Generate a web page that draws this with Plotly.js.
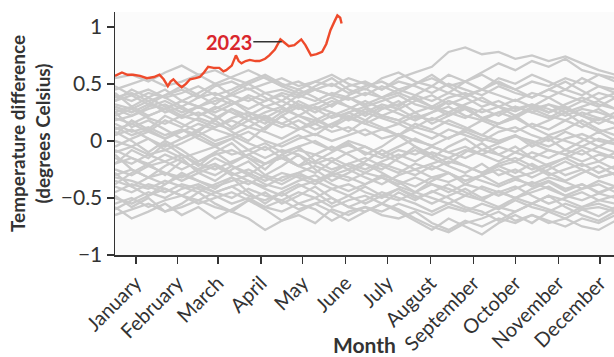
<!DOCTYPE html>
<html>
<head>
<meta charset="utf-8">
<script src="https://cdn.plot.ly/plotly-3.0.1.min.js"></script>
<style>html,body{margin:0;padding:0;background:#fff;}#chart{width:614px;height:357px;}</style>
</head>
<body>
<div id="chart"></div>
<script>
// Day-of-year sample positions for the past-year (gray) series
const days = [0,12,24,36,48,60,72,84,96,108,120,132,144,156,168,180,192,204,216,228,240,252,264,276,288,300,312,324,336,348,360];

// Past years: daily global temperature difference (°C), sampled
const pastYears = [
  [0.55,0.58,0.52,0.60,0.66,0.58,0.62,0.55,0.50,0.56,0.48,0.42,0.45,0.40,0.36,0.42,0.38,0.45,0.40,0.35,0.42,0.38,0.30,0.35,0.28,0.32,0.25,0.30,0.22,0.28,0.20],
  [0.45,0.50,0.55,0.48,0.52,0.58,0.50,0.56,0.62,0.55,0.48,0.52,0.45,0.50,0.42,0.48,0.52,0.45,0.50,0.55,0.48,0.52,0.58,0.50,0.45,0.52,0.48,0.55,0.50,0.58,0.52],
  [0.30,0.25,0.32,0.28,0.35,0.30,0.38,0.32,0.40,0.35,0.42,0.38,0.45,0.40,0.48,0.52,0.45,0.55,0.60,0.65,0.78,0.82,0.76,0.78,0.72,0.75,0.70,0.74,0.68,0.62,0.58],
  [0.38,0.42,0.35,0.40,0.45,0.38,0.48,0.52,0.45,0.50,0.55,0.48,0.52,0.58,0.50,0.45,0.55,0.60,0.52,0.48,0.58,0.52,0.60,0.68,0.62,0.70,0.65,0.72,0.62,0.58,0.55],
  [0.25,0.30,0.22,0.28,0.35,0.30,0.25,0.32,0.38,0.30,0.35,0.28,0.32,0.38,0.30,0.25,0.32,0.28,0.35,0.40,0.32,0.38,0.45,0.40,0.35,0.42,0.38,0.45,0.40,0.48,0.42],
  [0.20,0.15,0.22,0.28,0.20,0.25,0.18,0.28,0.22,0.30,0.25,0.32,0.28,0.20,0.25,0.30,0.22,0.28,0.20,0.25,0.30,0.22,0.18,0.25,0.20,0.28,0.22,0.18,0.25,0.20,0.15],
  [0.32,0.28,0.35,0.25,0.30,0.22,0.28,0.35,0.25,0.20,0.28,0.22,0.30,0.25,0.18,0.25,0.20,0.15,0.22,0.18,0.25,0.20,0.28,0.22,0.30,0.25,0.32,0.28,0.35,0.30,0.38],
  [0.10,0.15,0.08,0.18,0.12,0.20,0.15,0.10,0.18,0.22,0.15,0.10,0.18,0.12,0.20,0.15,0.22,0.18,0.12,0.20,0.15,0.10,0.18,0.12,0.08,0.15,0.10,0.18,0.12,0.20,0.15],
  [0.12,0.05,0.10,0.02,0.08,0.15,0.10,0.05,0.12,0.08,0.02,0.10,0.15,0.08,0.12,0.05,0.10,0.15,0.08,0.02,0.10,0.05,0.00,0.08,0.12,0.05,0.00,0.08,0.02,-0.05,0.02],
  [0.40,0.35,0.42,0.38,0.30,0.38,0.42,0.35,0.28,0.35,0.40,0.32,0.25,0.32,0.38,0.30,0.35,0.40,0.32,0.28,0.35,0.30,0.25,0.30,0.22,0.28,0.32,0.25,0.30,0.35,0.28],
  [0.00,-0.05,0.02,-0.08,-0.02,0.05,-0.03,0.02,0.08,0.00,-0.05,0.02,0.06,0.00,0.05,0.10,0.02,0.06,0.00,-0.04,0.03,0.08,0.02,-0.02,0.04,0.00,-0.05,0.02,0.06,0.00,-0.03],
  [-0.10,-0.05,-0.12,-0.08,-0.15,-0.10,-0.05,-0.12,-0.08,-0.02,-0.10,-0.05,0.00,-0.08,-0.04,-0.10,-0.15,-0.08,-0.12,-0.05,-0.10,-0.15,-0.08,-0.12,-0.18,-0.10,-0.15,-0.08,-0.12,-0.05,-0.10],
  [-0.20,-0.15,-0.22,-0.18,-0.12,-0.20,-0.25,-0.18,-0.12,-0.20,-0.15,-0.22,-0.18,-0.25,-0.20,-0.15,-0.22,-0.28,-0.20,-0.25,-0.18,-0.22,-0.28,-0.22,-0.18,-0.25,-0.20,-0.15,-0.22,-0.18,-0.25],
  [-0.30,-0.25,-0.32,-0.28,-0.35,-0.28,-0.22,-0.30,-0.25,-0.32,-0.38,-0.30,-0.35,-0.28,-0.32,-0.38,-0.30,-0.35,-0.40,-0.32,-0.36,-0.30,-0.35,-0.40,-0.34,-0.38,-0.32,-0.36,-0.42,-0.35,-0.40],
  [-0.40,-0.45,-0.38,-0.42,-0.48,-0.40,-0.45,-0.50,-0.42,-0.48,-0.52,-0.45,-0.50,-0.42,-0.48,-0.55,-0.48,-0.52,-0.45,-0.50,-0.55,-0.48,-0.52,-0.58,-0.50,-0.55,-0.48,-0.52,-0.58,-0.52,-0.55],
  [-0.65,-0.60,-0.55,-0.62,-0.58,-0.52,-0.58,-0.62,-0.68,-0.78,-0.70,-0.65,-0.72,-0.60,-0.65,-0.58,-0.62,-0.55,-0.60,-0.65,-0.58,-0.62,-0.55,-0.60,-0.52,-0.58,-0.62,-0.55,-0.60,-0.58,-0.62],
  [-0.55,-0.50,-0.58,-0.52,-0.48,-0.55,-0.50,-0.45,-0.52,-0.58,-0.62,-0.55,-0.60,-0.70,-0.62,-0.58,-0.65,-0.68,-0.62,-0.72,-0.78,-0.70,-0.75,-0.68,-0.72,-0.65,-0.70,-0.75,-0.68,-0.72,-0.65],
  [-0.50,-0.55,-0.48,-0.42,-0.48,-0.52,-0.45,-0.40,-0.48,-0.52,-0.45,-0.55,-0.50,-0.58,-0.52,-0.48,-0.55,-0.60,-0.68,-0.75,-0.80,-0.72,-0.68,-0.62,-0.70,-0.65,-0.72,-0.68,-0.75,-0.78,-0.70],
  [-0.35,-0.40,-0.32,-0.38,-0.30,-0.35,-0.40,-0.35,-0.30,-0.38,-0.42,-0.35,-0.30,-0.38,-0.44,-0.38,-0.32,-0.40,-0.45,-0.38,-0.42,-0.48,-0.40,-0.45,-0.50,-0.45,-0.40,-0.48,-0.52,-0.46,-0.50],
  [-0.25,-0.30,-0.22,-0.28,-0.32,-0.25,-0.20,-0.28,-0.35,-0.40,-0.32,-0.28,-0.35,-0.30,-0.25,-0.32,-0.38,-0.30,-0.25,-0.32,-0.28,-0.35,-0.30,-0.25,-0.32,-0.28,-0.22,-0.30,-0.25,-0.32,-0.28],
  [-0.15,-0.20,-0.12,-0.18,-0.25,-0.18,-0.12,-0.08,-0.15,-0.20,-0.15,-0.08,-0.12,-0.18,-0.10,-0.05,-0.12,-0.18,-0.25,-0.20,-0.15,-0.22,-0.28,-0.20,-0.15,-0.22,-0.30,-0.25,-0.20,-0.28,-0.22],
  [0.05,0.10,0.02,-0.05,0.02,0.08,0.00,0.05,-0.02,-0.08,-0.02,0.05,-0.02,-0.08,0.00,-0.05,-0.12,-0.05,0.02,-0.05,-0.10,-0.05,-0.12,-0.18,-0.10,-0.15,-0.08,-0.12,-0.18,-0.12,-0.15],
  [0.22,0.28,0.20,0.15,0.22,0.18,0.12,0.20,0.25,0.18,0.12,0.18,0.10,0.15,0.22,0.15,0.10,0.05,0.12,0.08,0.02,0.10,0.05,0.00,0.05,-0.02,0.04,0.00,-0.05,0.02,-0.02],
  [-0.45,-0.38,-0.42,-0.35,-0.40,-0.45,-0.38,-0.32,-0.38,-0.30,-0.35,-0.28,-0.22,-0.28,-0.20,-0.25,-0.18,-0.12,-0.18,-0.10,-0.15,-0.08,-0.12,-0.05,-0.10,-0.02,-0.08,-0.12,-0.05,-0.10,-0.15],
  [0.15,0.08,0.12,0.05,0.10,0.02,-0.05,0.02,-0.08,-0.15,-0.08,-0.12,-0.20,-0.15,-0.22,-0.28,-0.20,-0.25,-0.30,-0.22,-0.28,-0.35,-0.30,-0.38,-0.32,-0.40,-0.35,-0.42,-0.38,-0.45,-0.40],
  [0.35,0.40,0.45,0.38,0.42,0.48,0.40,0.45,0.52,0.58,0.50,0.45,0.52,0.48,0.55,0.50,0.45,0.52,0.48,0.42,0.50,0.45,0.40,0.48,0.42,0.38,0.45,0.40,0.35,0.42,0.38],
  [-0.05,0.02,0.08,0.02,0.10,0.05,0.12,0.18,0.12,0.20,0.15,0.22,0.18,0.25,0.20,0.28,0.22,0.18,0.25,0.30,0.22,0.28,0.20,0.25,0.30,0.25,0.20,0.28,0.22,0.18,0.25],
  [-0.60,-0.52,-0.45,-0.50,-0.42,-0.38,-0.45,-0.40,-0.35,-0.42,-0.48,-0.40,-0.35,-0.42,-0.38,-0.45,-0.50,-0.42,-0.48,-0.55,-0.48,-0.42,-0.50,-0.45,-0.40,-0.48,-0.55,-0.50,-0.45,-0.52,-0.48],
  [0.28,0.22,0.30,0.35,0.28,0.22,0.30,0.25,0.18,0.25,0.30,0.22,0.15,0.22,0.28,0.35,0.28,0.32,0.38,0.30,0.25,0.32,0.38,0.30,0.36,0.30,0.25,0.32,0.38,0.32,0.28],
  [-0.08,-0.15,-0.20,-0.12,-0.18,-0.25,-0.30,-0.22,-0.28,-0.35,-0.28,-0.32,-0.38,-0.30,-0.35,-0.28,-0.32,-0.38,-0.32,-0.38,-0.45,-0.38,-0.42,-0.48,-0.42,-0.36,-0.42,-0.48,-0.42,-0.38,-0.45],
  [-0.32,-0.35,-0.40,-0.45,-0.38,-0.42,-0.48,-0.55,-0.50,-0.58,-0.52,-0.60,-0.55,-0.50,-0.58,-0.52,-0.45,-0.50,-0.55,-0.62,-0.55,-0.60,-0.65,-0.58,-0.62,-0.55,-0.60,-0.65,-0.58,-0.55,-0.60],
  [0.18,0.22,0.28,0.32,0.25,0.30,0.35,0.40,0.35,0.42,0.45,0.40,0.35,0.42,0.38,0.32,0.38,0.42,0.36,0.30,0.38,0.42,0.35,0.30,0.26,0.32,0.28,0.22,0.28,0.25,0.20],
  [0.42,0.30,0.38,0.45,0.35,0.42,0.50,0.40,0.46,0.38,0.30,0.40,0.48,0.55,0.45,0.40,0.48,0.42,0.50,0.58,0.48,0.40,0.45,0.52,0.45,0.38,0.45,0.52,0.44,0.36,0.42],
  [0.05,0.18,0.10,0.22,0.15,0.08,0.20,0.28,0.18,0.10,0.22,0.30,0.20,0.12,0.25,0.18,0.28,0.35,0.25,0.15,0.22,0.30,0.20,0.15,0.22,0.12,0.18,0.25,0.15,0.08,0.12],
  [-0.20,-0.08,-0.15,-0.02,-0.12,-0.22,-0.10,-0.02,-0.15,-0.25,-0.12,-0.05,-0.18,-0.10,-0.02,-0.12,-0.05,0.05,-0.05,-0.15,-0.05,0.02,-0.08,-0.02,0.05,-0.05,0.02,-0.08,0.00,0.08,0.00],
  [-0.38,-0.28,-0.20,-0.30,-0.18,-0.25,-0.15,-0.22,-0.30,-0.20,-0.12,-0.22,-0.28,-0.18,-0.25,-0.18,-0.08,-0.15,-0.05,-0.12,-0.20,-0.10,-0.02,-0.12,-0.05,-0.15,-0.22,-0.15,-0.08,-0.18,-0.10],
  [-0.48,-0.58,-0.50,-0.62,-0.55,-0.45,-0.55,-0.62,-0.52,-0.45,-0.55,-0.48,-0.40,-0.50,-0.58,-0.62,-0.55,-0.45,-0.52,-0.44,-0.50,-0.58,-0.62,-0.70,-0.62,-0.55,-0.48,-0.58,-0.65,-0.70,-0.62],
  [0.48,0.40,0.32,0.40,0.48,0.40,0.32,0.42,0.50,0.42,0.35,0.45,0.38,0.30,0.40,0.46,0.38,0.30,0.40,0.48,0.42,0.52,0.45,0.55,0.50,0.58,0.52,0.45,0.55,0.48,0.45],
  [-0.12,-0.25,-0.32,-0.22,-0.15,-0.28,-0.35,-0.25,-0.18,-0.30,-0.22,-0.12,-0.25,-0.35,-0.28,-0.20,-0.28,-0.36,-0.45,-0.35,-0.28,-0.38,-0.30,-0.22,-0.28,-0.20,-0.28,-0.35,-0.28,-0.22,-0.30],
  [0.25,0.12,0.18,0.10,0.02,0.10,0.18,0.08,0.00,0.12,0.22,0.12,0.05,0.15,0.08,0.18,0.12,0.05,0.15,0.10,0.18,0.12,0.05,0.15,0.20,0.12,0.05,0.10,0.18,0.10,0.05],
  [-0.28,-0.40,-0.48,-0.38,-0.28,-0.35,-0.42,-0.32,-0.45,-0.55,-0.45,-0.38,-0.45,-0.55,-0.48,-0.40,-0.48,-0.42,-0.50,-0.45,-0.38,-0.45,-0.52,-0.44,-0.50,-0.42,-0.36,-0.44,-0.38,-0.46,-0.40],
  [0.08,0.00,-0.10,0.00,-0.08,-0.18,-0.10,-0.20,-0.12,-0.05,-0.15,-0.22,-0.12,-0.05,-0.12,-0.20,-0.25,-0.15,-0.08,-0.15,-0.22,-0.28,-0.20,-0.30,-0.25,-0.32,-0.25,-0.18,-0.25,-0.32,-0.28],
  [0.35,0.45,0.38,0.30,0.22,0.30,0.22,0.12,0.22,0.15,0.25,0.35,0.28,0.35,0.30,0.22,0.30,0.24,0.18,0.25,0.35,0.28,0.20,0.15,0.22,0.30,0.38,0.30,0.22,0.15,0.22],
  [-0.58,-0.68,-0.62,-0.55,-0.65,-0.58,-0.68,-0.60,-0.52,-0.60,-0.70,-0.62,-0.55,-0.62,-0.70,-0.62,-0.55,-0.62,-0.70,-0.78,-0.68,-0.75,-0.82,-0.72,-0.65,-0.72,-0.62,-0.68,-0.60,-0.66,-0.58]
];

// 2023 series (day of year, temperature difference)
const days2023 = [0,3,5,9,13,18,23,28,32,35,38,40,42,45,48,51,54,58,61,64,67,71,75,78,80,84,87,89,91,94,97,101,104,108,111,115,119,122,125,129,134,137,141,145,149,152,155,158,160,162,163];
const temp2023 = [0.57,0.59,0.60,0.58,0.58,0.57,0.55,0.56,0.58,0.54,0.48,0.52,0.54,0.50,0.47,0.50,0.54,0.55,0.56,0.60,0.65,0.64,0.64,0.61,0.62,0.66,0.75,0.70,0.68,0.70,0.71,0.70,0.70,0.72,0.75,0.80,0.89,0.86,0.83,0.84,0.89,0.84,0.75,0.76,0.78,0.85,0.97,1.05,1.10,1.08,1.03];

// Axis ticks
const monthTickDays = [15,45,74,105,135,166,196,227,258,288,319,349];
const monthNames = ["January","February","March","April","May","June","July","August","September","October","November","December"];
const yTickVals = [-1,-0.5,0,0.5,1];
const yTickText = ["−1","−0.5","0","0.5","1"];

const traces = pastYears.map(v => ({
  x: days, y: v, type: 'scatter', mode: 'lines',
  line: {color: 'rgb(202,202,202)', width: 2.3},
  hoverinfo: 'skip', showlegend: false
}));
traces.push({
  x: days2023, y: temp2023, type: 'scatter', mode: 'lines',
  line: {color: '#ee4a2b', width: 2.4},
  showlegend: false, name: '2023'
});

const font = "Lato, 'Open Sans', sans-serif";
const layout = {
  width: 614, height: 357,
  margin: {l: 115, r: 0, t: 12, b: 102},
  paper_bgcolor: '#ffffff', plot_bgcolor: '#fbfbfb',
  font: {family: font, color: '#333', size: 20},
  xaxis: {
    range: [0, 359], tickmode: 'array', tickvals: monthTickDays, ticktext: monthNames,
    tickangle: -45, ticks: 'outside', ticklen: 7, tickwidth: 1.5, tickcolor: '#333',
    showline: true, linecolor: '#333', linewidth: 1.5, showgrid: false, zeroline: false,
    tickfont: {family: font, size: 20, color: '#333'},
    title: {text: '<b>Month</b>', font: {family: font, size: 21, color: '#333'}, standoff: 0}
  },
  yaxis: {
    range: [-1, 1.13], tickmode: 'array', tickvals: yTickVals, ticktext: yTickText,
    ticks: 'outside', ticklen: 7, tickwidth: 1.5, tickcolor: '#333',
    showline: true, linecolor: '#333', linewidth: 1.5, showgrid: false, zeroline: false,
    tickfont: {family: font, size: 21, color: '#333'},
    title: {text: '<b>Temperature difference<br>(degrees Celsius)</b>', font: {family: font, size: 19, color: '#333'}, standoff: 5}
  },
  annotations: [{
    x: 120, y: 0.87, xref: 'x', yref: 'y',
    text: '<b>2023</b>', showarrow: true, arrowhead: 0, arrowwidth: 1.5, arrowcolor: '#333',
    ax: -53, ay: 0, font: {family: font, size: 20, color: '#d9262c'}
  }]
};

Plotly.newPlot('chart', traces, layout, {staticPlot: true, displayModeBar: false});
</script>
</body>
</html>
